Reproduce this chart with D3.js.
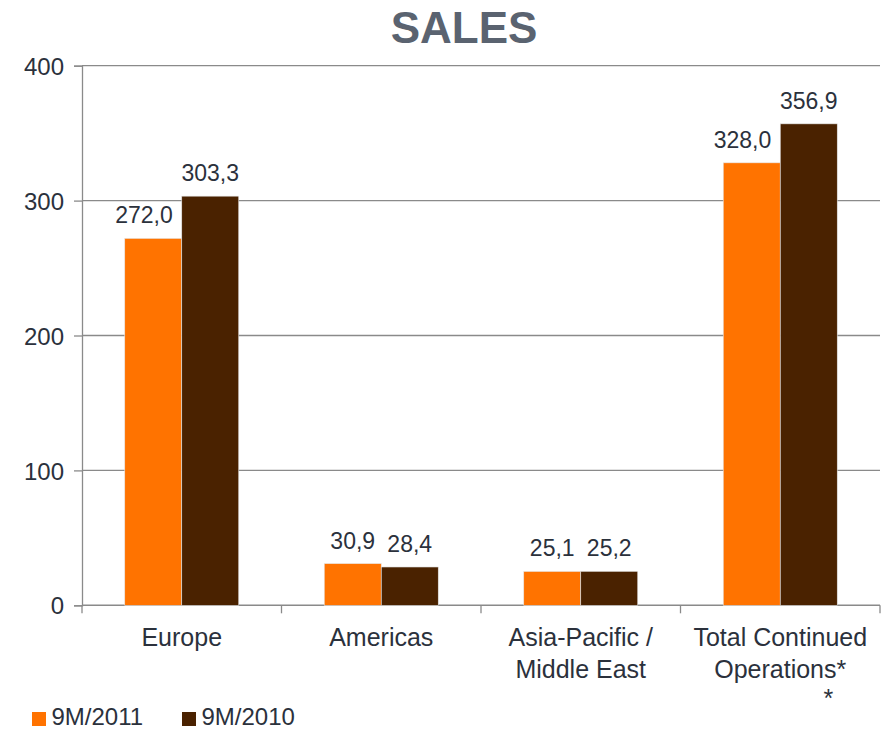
<!DOCTYPE html>
<html>
<head>
<meta charset="utf-8">
<script src="https://cdn.jsdelivr.net/npm/d3@7"></script>
<style>
  html, body { margin: 0; padding: 0; background: #fff; }
  svg { display: block; font-family: "Liberation Sans", Arial, sans-serif; }
</style>
</head>
<body>
<svg id="chart" width="884" height="729"></svg>
<script>
const title = "SALES";
const categories = ["Europe", "Americas", "Asia-Pacific / Middle East", "Total Continued Operations**"];
const categoryLines = [["Europe"], ["Americas"], ["Asia-Pacific /", "Middle East"], ["Total Continued", "Operations*", "*"]];
const seriesNames = ["9M/2011", "9M/2010"];
const values2011 = [272.0, 30.9, 25.1, 328.0];
const values2010 = [303.3, 28.4, 25.2, 356.9];
const yTicks = [0, 100, 200, 300, 400];
const colors = ["#ff7300", "#4a2200"];

const svg = d3.select("#chart");
const plotLeft = 82, plotRight = 880, plotTop = 65.7, plotBottom = 605.3;
const textColor = "#2b313c";
const gridColor = "#8a8a8a";

const x = d3.scaleBand().domain(categories).range([plotLeft, plotRight]).paddingInner(0).paddingOuter(0);
const xInner = d3.scaleBand().domain(seriesNames).range([0, x.bandwidth()]).paddingInner(0).paddingOuter(0.75);
const y = d3.scaleLinear().domain([0, 400]).range([plotBottom, plotTop]);

// gridlines
svg.append("g").selectAll("line").data(yTicks.filter(t => t > 0)).join("line")
  .attr("x1", plotLeft).attr("x2", plotRight)
  .attr("y1", d => y(d)).attr("y2", d => y(d))
  .attr("stroke", gridColor).attr("stroke-width", 1.3);

// y axis
const yAxis = svg.append("g").attr("transform", `translate(${plotLeft},0)`)
  .call(d3.axisLeft(y).tickValues(yTicks).tickSize(8).tickPadding(10).tickFormat(d3.format("d")));
yAxis.select(".domain").attr("stroke", gridColor).attr("stroke-width", 1.3);
yAxis.selectAll(".tick line").attr("stroke", gridColor).attr("stroke-width", 1.3);
yAxis.selectAll(".tick text").attr("fill", textColor).attr("font-size", 24)
  .attr("font-family", "Liberation Sans, Arial, sans-serif").attr("dy", "0.36em");

// x axis line + boundary ticks
svg.append("line").attr("x1", plotLeft).attr("x2", plotRight).attr("y1", plotBottom).attr("y2", plotBottom)
  .attr("stroke", gridColor).attr("stroke-width", 1.5);
const boundaries = categories.map(c => x(c)).concat([x(categories[categories.length - 1]) + x.bandwidth()]);
svg.append("g").selectAll("line").data(boundaries).join("line")
  .attr("x1", d => d).attr("x2", d => d).attr("y1", plotBottom).attr("y2", plotBottom + 8)
  .attr("stroke", gridColor).attr("stroke-width", 1.3);

// bars
const data = categories.map((c, i) => ({ cat: c, vals: [values2011[i], values2010[i]] }));
const groups = svg.append("g").selectAll("g").data(data).join("g")
  .attr("transform", d => `translate(${x(d.cat)},0)`);
groups.selectAll("rect").data(d => d.vals.map((v, j) => ({ s: seriesNames[j], v, j }))).join("rect")
  .attr("x", d => xInner(d.s))
  .attr("y", d => y(d.v))
  .attr("width", xInner.bandwidth())
  .attr("height", d => y(0) - y(d.v))
  .attr("fill", d => colors[d.j])
  .attr("stroke", "#e6e6e6").attr("stroke-width", 0.6);

// value labels
const fmt = v => v.toFixed(1).replace(".", ",");
groups.each(function(d) {
  const g = d3.select(this);
  d.vals.forEach((v, j) => {
    const s = seriesNames[j];
    let tx = xInner(s) + xInner.bandwidth() / 2, anchor = "middle";
    // orange label shifted left when the neighbouring taller bar would hide it
    if (j === 0 && y(d.vals[1]) < y(v) - 20) {
      tx = xInner(s) + xInner.bandwidth() - 9; anchor = "end";
    }
    g.append("text").attr("x", tx).attr("y", y(v) - 15)
      .attr("text-anchor", anchor).attr("font-size", 23).attr("fill", textColor)
      .text(fmt(v));
  });
});

// category labels
categories.forEach((c, i) => {
  const cx = x(c) + x.bandwidth() / 2;
  categoryLines[i].forEach((ln, k) => {
    const stray = (k === 2);
    svg.append("text").attr("text-anchor", "middle").attr("font-size", 25).attr("fill", textColor)
      .attr("x", stray ? cx + 48 : cx).attr("y", stray ? 707 : 646 + k * 32).text(ln);
  });
});

// title
svg.append("text").attr("x", 464).attr("y", 43).attr("text-anchor", "middle")
  .attr("font-size", 44).attr("font-weight", "bold").attr("fill", "#5a6370").text(title);

// legend
const legendX = [32, 182];
seriesNames.forEach((s, j) => {
  svg.append("rect").attr("x", legendX[j]).attr("y", 712).attr("width", 14).attr("height", 14).attr("fill", colors[j]);
  svg.append("text").attr("x", legendX[j] + 19.5).attr("y", 725).attr("font-size", 24).attr("fill", textColor).text(s);
});
</script>
</body>
</html>
